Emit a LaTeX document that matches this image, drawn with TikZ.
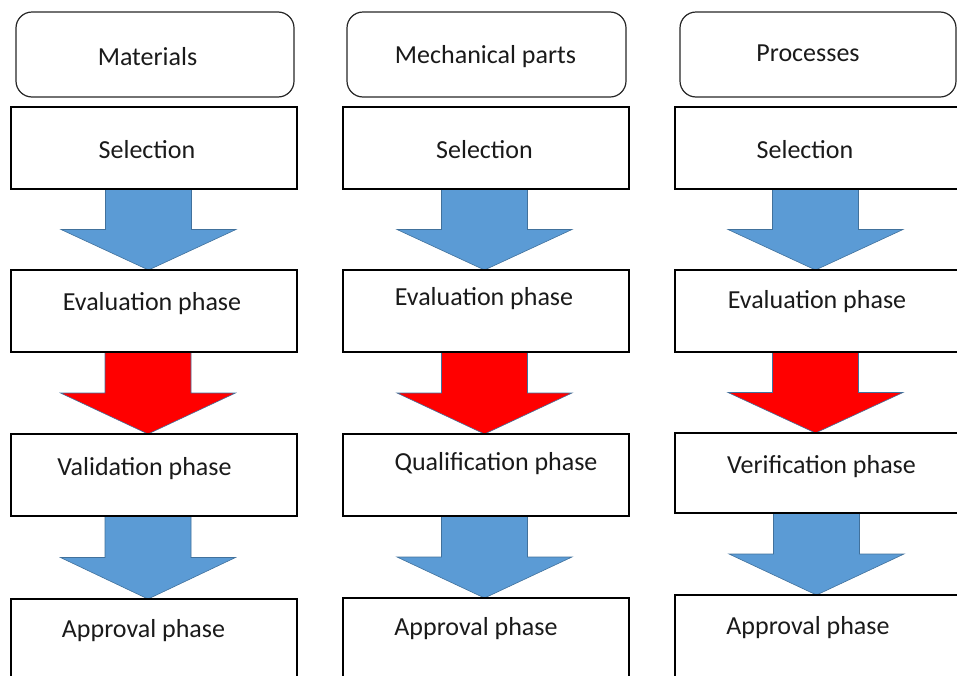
\documentclass[tikz,border=0pt]{standalone}
\usepackage{fontspec}
\setmainfont{Carlito}
\usetikzlibrary{calc,backgrounds}

\definecolor{flowblue}{HTML}{5B9BD5}
\definecolor{flowedge}{HTML}{41719C}
\definecolor{flowred}{HTML}{FF0000}
\definecolor{inkgray}{HTML}{1A1A1A}

\tikzset{
  stagebox/.style={draw=black, line width=1.2pt, rectangle, inner sep=0pt, outer sep=0pt},
  groupbox/.style={draw=black!85, line width=1.2pt, rectangle, rounded corners=16pt, inner sep=0pt, outer sep=0pt},
  lbl/.style={anchor=base, inner sep=0pt, text=inkgray, font=\fontsize{26}{31}\selectfont},
  bluearrow/.style={fill=flowblue, draw=flowedge, line width=0.6pt},
  redarrow/.style={fill=flowred, draw=flowedge, line width=0.6pt},
}

% box spanning (x1,y1)-(x2,y2), y measured downwards
\newcommand\placebox[6]{%
  \node[#6, minimum width={(#4-#2)*1pt}, minimum height={(#5-#3)*1pt}]
    (#1) at ({(#2+#4)/2},{(#3+#5)/2}) {};}

% thick block arrow from the bottom of one box to the top of the next
\newcommand\flowarrow[4]{%
  \path[#1] let \p1=(#2.south), \p2=(#3.north) in
    ({(#4-43)*1pt},\y1) -- ({(#4+43)*1pt},\y1)
    -- ({(#4+43)*1pt},{(\y1+\y2)/2}) -- ({(#4+87.5)*1pt},{(\y1+\y2)/2})
    -- ({#4*1pt},\y2)
    -- ({(#4-87.5)*1pt},{(\y1+\y2)/2}) -- ({(#4-43)*1pt},{(\y1+\y2)/2})
    -- cycle;}

\begin{document}
\begin{tikzpicture}[x=1pt, y=-1pt]
  \useasboundingbox (0,0) rectangle (957,675);
  \clip (0,0) rectangle (957,675);

  % Materials column
  \placebox{r1}{16}{12}{294}{97}{groupbox}
  \placebox{s1}{11}{107}{297}{189}{stagebox}
  \placebox{e1}{11}{270}{297}{352}{stagebox}
  \placebox{v1}{11}{434}{297}{516}{stagebox}
  \placebox{a1}{11}{599}{297}{700}{stagebox}

  % Mechanical parts column
  \placebox{r2}{347}{12}{626}{97}{groupbox}
  \placebox{s2}{343}{107}{629}{189}{stagebox}
  \placebox{e2}{343}{270}{629}{352}{stagebox}
  \placebox{q2}{343}{434}{629}{516}{stagebox}
  \placebox{a2}{343}{598}{629}{700}{stagebox}

  % Processes column
  \placebox{r3}{680}{12}{956}{97}{groupbox}
  \placebox{s3}{675}{107}{970}{189}{stagebox}
  \placebox{e3}{675}{270}{970}{352}{stagebox}
  \placebox{v3}{675}{433}{970}{513}{stagebox}
  \placebox{a3}{675}{595}{970}{700}{stagebox}

  % labels
  \node[lbl] (t-r1) at (147.5,65) {Materials};
  \node[lbl] (t-s1) at (147,158) {Selection};
  \node[lbl] (t-e1) at (152,310) {Evaluation phase};
  \node[lbl] (t-v1) at (144.5,475) {Validation phase};
  \node[lbl] (t-a1) at (143.5,637) {Approval phase};

  \node[lbl] (t-r2) at (485.5,63) {Mechanical parts};
  \node[lbl] (t-s2) at (484.5,158) {Selection};
  \node[lbl] (t-e2) at (484,305) {Evaluation phase};
  \node[lbl] (t-q2) at (496,470) {Qualification phase};
  \node[lbl] (t-a2) at (476,635) {Approval phase};

  \node[lbl] (t-r3) at (808,61) {Processes};
  \node[lbl] (t-s3) at (805,158) {Selection};
  \node[lbl] (t-e3) at (817,308) {Evaluation phase};
  \node[lbl] (t-v3) at (821.5,473) {Verification phase};
  \node[lbl] (t-a3) at (808,634) {Approval phase};

  % arrows between the stages, behind the box outlines
  \begin{pgfonlayer}{background}
    \flowarrow{bluearrow}{s1}{e1}{148.5}
    \flowarrow{redarrow}{e1}{v1}{148}
    \flowarrow{bluearrow}{v1}{a1}{148}

    \flowarrow{bluearrow}{s2}{e2}{484.5}
    \flowarrow{redarrow}{e2}{q2}{484.5}
    \flowarrow{bluearrow}{q2}{a2}{484.5}

    \flowarrow{bluearrow}{s3}{e3}{815.5}
    \flowarrow{redarrow}{e3}{v3}{815.5}
    \flowarrow{bluearrow}{v3}{a3}{816.5}
  \end{pgfonlayer}
\end{tikzpicture}
\end{document}
